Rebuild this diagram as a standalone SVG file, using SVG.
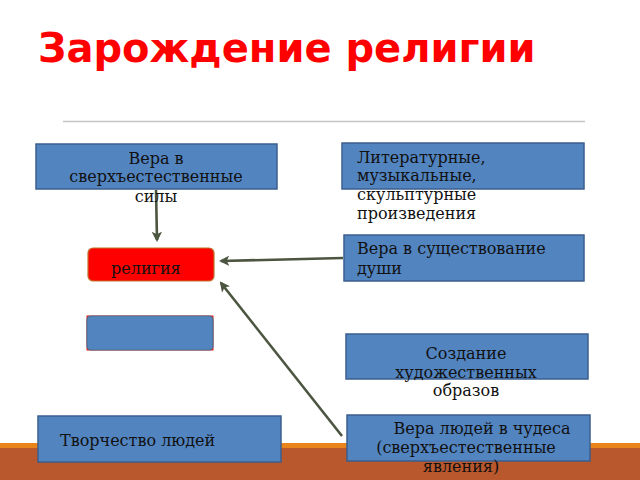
<svg xmlns="http://www.w3.org/2000/svg" width="640" height="480" viewBox="0 0 640 480">
<defs>
<style>
.box{fill:#5284c0;stroke:#3b5f8e;stroke-width:1.5}
.t{font-family:"DejaVu Serif","Liberation Serif",serif;font-size:16px;fill:#111}
.c{text-anchor:middle}
.con{stroke:#4b5540;stroke-width:2.6;fill:none;marker-end:url(#ah)}
</style>
<marker id="ah" viewBox="0 0 10 10" refX="8" refY="5" markerWidth="4" markerHeight="4" orient="auto" markerUnits="strokeWidth">
<path d="M0,0 L10,5 L0,10 L2.5,5 Z" fill="#4b5540"/>
</marker>
</defs>
<rect x="0" y="0" width="640" height="480" fill="#ffffff"/>
<rect x="0" y="443" width="640" height="5" fill="#e8841a"/>
<rect x="0" y="448" width="640" height="32" fill="#b9572d"/>
<text x="38" y="62" font-family="DejaVu Sans, sans-serif" font-weight="bold" font-size="40" fill="#ff0000">Зарождение религии</text>
<line x1="63" y1="121.5" x2="585" y2="121.5" stroke="#c4c4c4" stroke-width="1.5"/>

<g id="connectors">
<line class="con" x1="156" y1="190" x2="157" y2="240"/>
<line class="con" x1="343" y1="258" x2="221" y2="261"/>
<line class="con" x1="342" y1="436" x2="221" y2="283"/>
</g>

<g id="n1">
<rect class="box" x="36" y="144" width="241" height="45"/>
<text class="t c" x="156" y="164">Вера в</text>
<text class="t c" x="156" y="182">сверхъестественные</text>
<text class="t c" x="156" y="202">силы</text>
</g>
<g id="n2">
<rect class="box" x="342" y="143" width="242" height="46"/>
<text class="t" x="357" y="163">Литературные,</text>
<text class="t" x="357" y="181">музыкальные,</text>
<text class="t" x="357" y="200">скульптурные</text>
<text class="t" x="357" y="219">произведения</text>
</g>
<g id="n3">
<rect x="88" y="248" width="126" height="33" rx="5" fill="#ff0000" stroke="#c0722a" stroke-width="1.2"/>
<text class="t" x="111" y="274">религия</text>
</g>
<g id="n4">
<rect x="86.5" y="315.5" width="127" height="35" fill="#e02010"/>
<rect x="87" y="316" width="126" height="34" rx="4" fill="#5284c0" stroke="#4e6e8e" stroke-width="1.2"/>
</g>
<g id="n5">
<rect class="box" x="344" y="235" width="240" height="46"/>
<text class="t" x="357" y="254">Вера в существование</text>
<text class="t" x="357" y="274">души</text>
</g>
<g id="n6">
<rect class="box" x="346" y="334" width="242" height="45"/>
<text class="t c" x="466" y="359">Создание</text>
<text class="t c" x="466" y="378">художественных</text>
<text class="t c" x="466" y="396">образов</text>
</g>
<g id="n7">
<rect class="box" x="38" y="416" width="243" height="46"/>
<text class="t" x="60" y="446">Творчество людей</text>
</g>
<g id="n8">
<rect class="box" x="347" y="415" width="243" height="46"/>
<text class="t c" x="482" y="434">Вера людей в чудеса</text>
<text class="t c" x="466" y="453">(сверхъестественные</text>
<text class="t c" x="461" y="472">явления)</text>
</g>
</svg>
